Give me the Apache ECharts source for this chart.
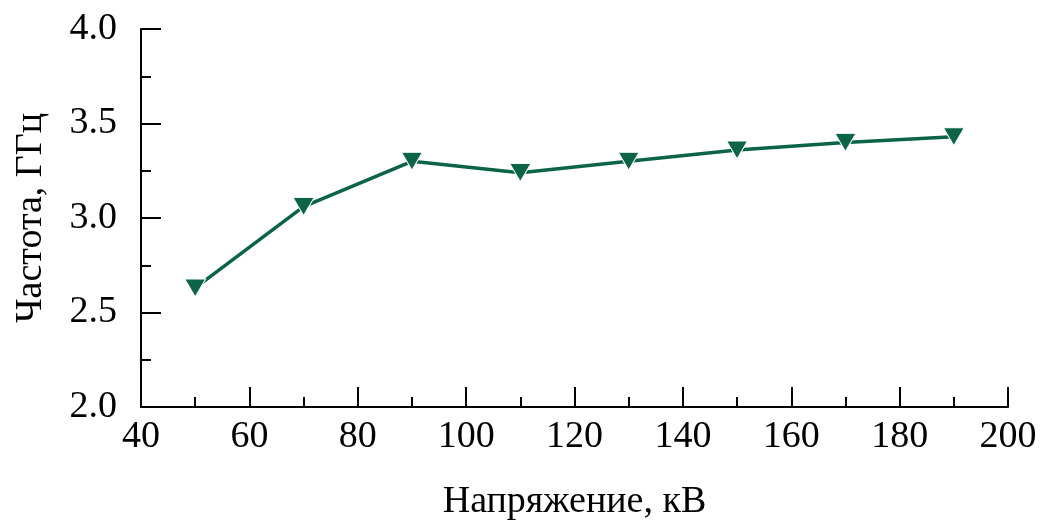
<!DOCTYPE html>
<html>
<head>
<meta charset="utf-8">
<script src="https://cdn.jsdelivr.net/npm/echarts@6/dist/echarts.min.js"></script>
<style>
  html, body { margin: 0; padding: 0; background: #fff; }
  #chart { width: 1045px; height: 529px; }
</style>
</head>
<body>
<div id="chart"></div>
<script>
// Voltage (kV) and measured frequency (GHz)
const voltage = [50, 70, 90, 110, 130, 150, 170, 190];
const frequency = [2.63, 3.06, 3.30, 3.24, 3.30, 3.36, 3.40, 3.43];
const xTitle = 'Напряжение, кВ';
const yTitle = 'Частота, ГГц';

const font = 'Liberation Serif, Times New Roman, serif';
const ink = '#000';
const green = '#0b6444';

const chart = echarts.init(document.getElementById('chart'), null, { renderer: 'canvas' });

const axisCommon = {
  axisLine: { show: true, onZero: false, lineStyle: { color: ink, width: 2 } },
  axisTick: { show: true, inside: true, length: 20, lineStyle: { color: ink, width: 2 } },
  minorTick: { show: true, splitNumber: 2, length: 10, lineStyle: { color: ink, width: 2 } },
  splitLine: { show: false },
  minorSplitLine: { show: false },
  nameLocation: 'middle',
  nameTextStyle: { fontFamily: font, fontSize: 38, color: ink }
};

chart.setOption({
  animation: false,
  backgroundColor: '#fff',
  grid: { left: 141, right: 37, top: 29, bottom: 122 },
  xAxis: Object.assign({}, axisCommon, {
    type: 'value',
    min: 40, max: 200, interval: 20,
    name: xTitle,
    nameGap: 76,
    axisLabel: { fontFamily: font, fontSize: 38, color: ink, margin: 11 }
  }),
  yAxis: Object.assign({}, axisCommon, {
    type: 'value',
    min: 2.0, max: 4.0, interval: 0.5,
    name: yTitle,
    nameGap: 91,
    axisLabel: {
      fontFamily: font, fontSize: 38, color: ink, margin: 24,
      formatter: v => v.toFixed(1)
    }
  }),
  series: [{
    type: 'line',
    data: voltage.map((v, i) => [v, frequency[i]]),
    symbol: 'triangle',
    symbolRotate: 180,
    symbolSize: [21, 18],
    lineStyle: { color: green, width: 3.5 },
    itemStyle: { color: green, borderColor: '#fff', borderWidth: 1 }
  }]
});
</script>
</body>
</html>
